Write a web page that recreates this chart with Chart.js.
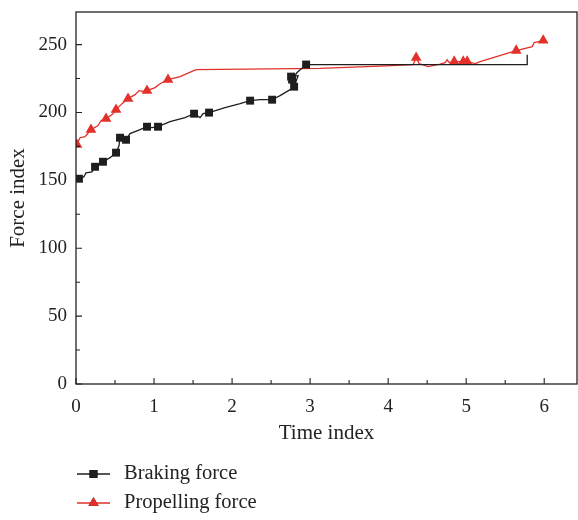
<!DOCTYPE html>
<html>
<head>
<meta charset="utf-8">
<script src="https://cdn.jsdelivr.net/npm/chart.js@4.4.1/dist/chart.umd.min.js"></script>
<style>
  html, body { margin: 0; padding: 0; background: #fff; }
  #wrap { width: 578px; height: 520px; }
</style>
</head>
<body>
<div id="wrap"><canvas id="force-chart" width="578" height="520"></canvas></div>
<script>
// Braking force trace (time index, force index); markers at selected samples
const brakingTime = [0.038, 0.103, 0.128, 0.205, 0.244, 0.346, 0.436, 0.513, 0.551, 0.564, 0.641, 0.692,
  0.821, 0.910, 0.974, 1.051, 1.205, 1.397, 1.513, 1.590, 1.628, 1.705, 1.910, 2.103, 2.231, 2.359,
  2.513, 2.615, 2.744, 2.795, 2.846, 2.756, 2.769, 2.833, 2.949, 5.782, 5.782];
const brakingForce = [151.2, 152.7, 155.6, 156.3, 160.0, 163.7, 166.7, 170.4, 175.5, 181.4, 179.9, 184.4,
  187.3, 189.5, 188.8, 189.5, 193.2, 196.2, 199.1, 196.2, 199.1, 199.9, 203.5, 206.5, 208.7, 209.4,
  209.4, 212.4, 216.8, 219.0, 227.1, 226.4, 224.2, 229.4, 235.3, 235.3, 242.6];
const brakingMarks = [0, 4, 5, 7, 9, 10, 13, 15, 18, 21, 24, 26, 29, 31, 32, 34];

// Propelling force trace
const propellingTime = [0.013, 0.051, 0.115, 0.192, 0.282, 0.321, 0.385, 0.462, 0.513, 0.590, 0.667, 0.756,
  0.808, 0.885, 0.910, 1.013, 1.077, 1.179, 1.333, 1.538, 3.128, 3.897, 4.321, 4.359, 4.397, 4.513,
  4.667, 4.731, 4.756, 4.782, 4.846, 4.962, 5.013, 5.115, 5.179, 5.346, 5.513, 5.641, 5.846, 5.872, 5.987];
const propellingForce = [176.3, 181.4, 182.2, 187.3, 190.3, 193.9, 195.4, 198.4, 202.1, 206.5, 210.2, 213.1,
  216.1, 215.3, 216.1, 218.3, 221.2, 224.2, 226.4, 231.6, 232.5, 234.1, 235.3, 240.4, 236.0, 233.8,
  235.6, 236.7, 238.9, 236.7, 237.5, 237.5, 237.5, 236.0, 237.5, 240.4, 243.4, 245.6, 248.5, 251.5, 253.0];
const propellingMarks = [0, 3, 6, 8, 10, 14, 17, 23, 30, 31, 32, 37, 40];

const xTicks = [0, 1, 2, 3, 4, 5, 6];
const yTicks = [0, 50, 100, 150, 200, 250];
const X_MAX = 6.42;
const Y_MAX = 274;

const BLACK = '#1e1e1e';
const RED = '#e3302a';
const FONT = '"Liberation Serif", "Times New Roman", serif';

function toPoints(xs, ys) {
  return xs.map((x, i) => ({ x: x, y: ys[i] }));
}
function markRadii(n, marks, r) {
  const out = new Array(n).fill(0);
  marks.forEach((i) => { out[i] = r; });
  return out;
}

// box around the plot plus inward major/minor ticks
const frame = {
  id: 'frame',
  afterDatasetsDraw(chart) {
    const { ctx, chartArea: a, scales: { x, y } } = chart;
    ctx.save();
    ctx.strokeStyle = '#222';
    ctx.lineWidth = 1.3;
    ctx.strokeRect(a.left, a.top, a.right - a.left, a.bottom - a.top);
    ctx.lineWidth = 1.1;
    ctx.beginPath();
    for (let v = 0; v <= X_MAX; v += 0.5) {
      const px = x.getPixelForValue(v);
      const len = Number.isInteger(v) ? 6 : 4;
      ctx.moveTo(px, a.bottom);
      ctx.lineTo(px, a.bottom - len);
    }
    for (let v = 0; v <= Y_MAX; v += 25) {
      const py = y.getPixelForValue(v);
      const len = v % 50 === 0 ? 6 : 4;
      ctx.moveTo(a.left, py);
      ctx.lineTo(a.left + len, py);
    }
    ctx.stroke();
    ctx.restore();
  }
};

// legend stacked under the x axis title
const stackedLegend = {
  id: 'stackedLegend',
  afterDraw(chart) {
    const ctx = chart.ctx;
    const left = 77, lineLen = 33, top = 474, gap = 29;
    ctx.save();
    chart.data.datasets.forEach((ds, i) => {
      const yy = top + i * gap;
      ctx.strokeStyle = ds.borderColor;
      ctx.lineWidth = 1.3;
      ctx.beginPath();
      ctx.moveTo(left, yy);
      ctx.lineTo(left + lineLen, yy);
      ctx.stroke();
      Chart.helpers.drawPoint(ctx, {
        pointStyle: ds.pointStyle, radius: ds.legendRadius, borderWidth: 0
      }, left + lineLen / 2, yy);
      ctx.fillStyle = ds.pointBackgroundColor;
      ctx.fill();
      ctx.fillStyle = '#222';
      ctx.font = '20.5px ' + FONT;
      ctx.textBaseline = 'middle';
      ctx.fillText(ds.label, left + 47, yy);
    });
    ctx.restore();
  }
};

new Chart(document.getElementById('force-chart'), {
  type: 'line',
  data: {
    datasets: [
      {
        label: 'Braking force',
        data: toPoints(brakingTime, brakingForce),
        borderColor: BLACK,
        borderWidth: 1.3,
        pointStyle: 'rect',
        pointRadius: markRadii(brakingTime.length, brakingMarks, 5.6),
        pointBackgroundColor: BLACK,
        pointBorderWidth: 0,
        legendRadius: 5.6,
        tension: 0
      },
      {
        label: 'Propelling force',
        data: toPoints(propellingTime, propellingForce),
        borderColor: RED,
        borderWidth: 1.3,
        pointStyle: 'triangle',
        pointRadius: markRadii(propellingTime.length, propellingMarks, 6.2),
        pointBackgroundColor: RED,
        pointBorderWidth: 0,
        legendRadius: 6,
        tension: 0
      }
    ]
  },
  options: {
    responsive: false,
    animation: false,
    layout: { autoPadding: false, padding: { top: 12, right: 1, bottom: 74, left: 0 } },
    plugins: { legend: { display: false }, tooltip: { enabled: false } },
    scales: {
      x: {
        type: 'linear',
        min: 0,
        max: X_MAX,
        grid: { display: false, drawTicks: false },
        border: { display: false },
        afterBuildTicks: (s) => { s.ticks = xTicks.map((v) => ({ value: v })); },
        afterFit: (s) => { s.height = 62; s.paddingLeft = 0; s.paddingRight = 0; },
        ticks: { color: '#222', font: { family: FONT, size: 19 }, padding: 12, maxRotation: 0 },
        title: { display: true, text: 'Time index', color: '#222', font: { family: FONT, size: 21 }, padding: 0 }
      },
      y: {
        min: 0,
        max: Y_MAX,
        grid: { display: false, drawTicks: false },
        border: { display: false },
        afterBuildTicks: (s) => { s.ticks = yTicks.map((v) => ({ value: v })); },
        afterFit: (s) => { s.width = 76; s.paddingTop = 0; s.paddingBottom = 0; },
        ticks: { color: '#222', font: { family: FONT, size: 19 }, padding: 9 },
        title: { display: true, text: 'Force index', color: '#222', font: { family: FONT, size: 21 }, padding: { top: 6, bottom: 0 } }
      }
    }
  },
  plugins: [frame, stackedLegend]
});
</script>
</body>
</html>
